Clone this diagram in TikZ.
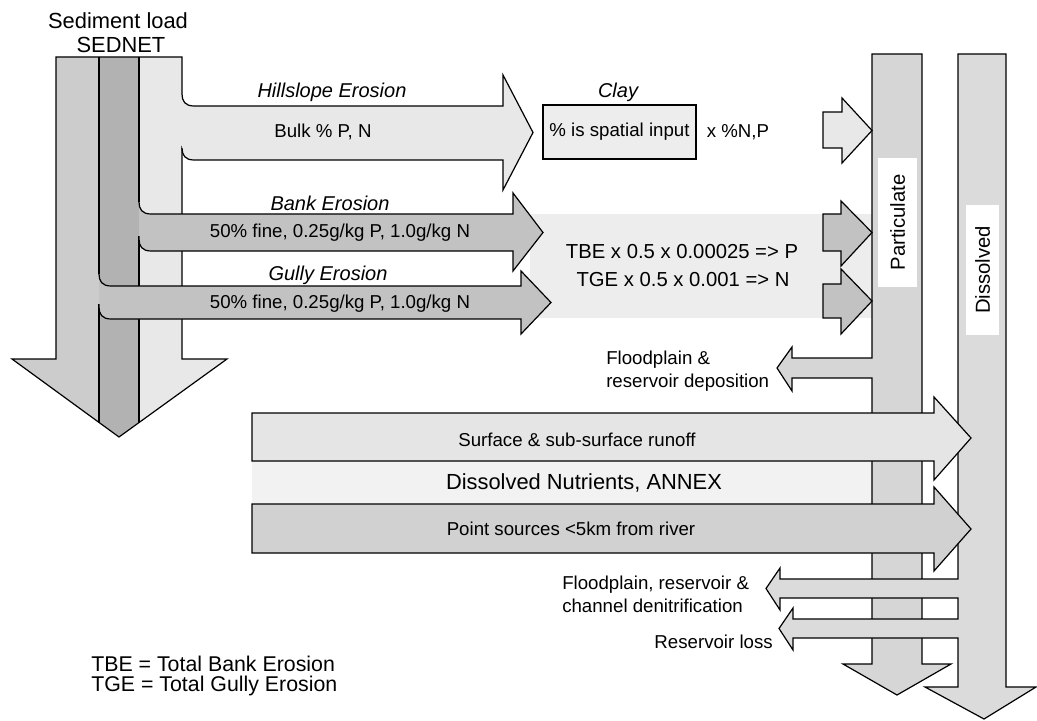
\documentclass[tikz,border=0pt]{standalone}
\usepackage{fontspec}
\setmainfont{Liberation Sans}
\definecolor{cA}{gray}{0.80}
\definecolor{cB}{gray}{0.70}
\definecolor{cC}{gray}{0.91}
\definecolor{cD}{gray}{0.76}
\definecolor{cP}{gray}{0.84}
\definecolor{cQ}{gray}{0.86}
\definecolor{cS}{gray}{0.90}
\definecolor{cT}{gray}{0.82}
\definecolor{cN}{gray}{0.95}
\definecolor{cM}{gray}{0.93}
\definecolor{cK}{gray}{0.93}
\tikzset{
  outl/.style={draw=black, line width=0.9pt, line join=miter},
  lbl/.style={inner sep=0pt, font=\fontsize{14}{17.25}\selectfont},
  lmid/.style={inner sep=0pt, font=\fontsize{15.2}{18}\selectfont},
  lbig/.style={inner sep=0pt, font=\fontsize{16.4}{18}\selectfont},
  lleg/.style={inner sep=0pt, font=\fontsize{16}{18}\selectfont},
  lital/.style={inner sep=0pt, font=\fontsize{15}{18}\selectfont\itshape},
}
\begin{document}
\begin{tikzpicture}[x=0.75pt,y=-0.75pt]
\useasboundingbox (0,0) rectangle (1037,720);

% ---------- background bands ----------
\fill[cN] (252,461) rectangle (872,504);
\fill[cM] (530,214) rectangle (872,318);

% ---------- big left arrow (SEDNET) ----------
\begin{scope}
\clip (56,57) -- (182,57) -- (182,359) -- (227,359) -- (119,437) -- (12,359) -- (56,359) -- cycle;
\fill[cA] (0,50) rectangle (99,450);
\fill[cB] (99,50) rectangle (139,450);
\fill[cC] (139,50) rectangle (240,450);
\end{scope}
\draw[outl] (182,94) -- (182,57) -- (56,57) -- (56,359) -- (12,359) -- (119,437) -- (227,359) -- (182,359) -- (182,146);
\draw[outl] (99,57) -- (99,274);
\draw[outl] (99,304) -- (99,422);
\draw[outl] (139,57) -- (139,202);
\draw[outl] (139,236) -- (139,422.6);

% Hillslope branch
\fill[cC] (182,94) .. controls (182,101) and (185,106) .. (194,106) -- (503,106) -- (503,75) -- (533,132.5) -- (503,190) -- (503,160) -- (194,160) .. controls (185,160) and (182,155) .. (182,148) -- cycle;
\draw[outl] (182,94) .. controls (182,101) and (185,106) .. (194,106) -- (503,106) -- (503,75) -- (533,132.5) -- (503,190) -- (503,160) -- (194,160) .. controls (185,160) and (182,155) .. (182,148);

% Bank branch
\fill[cD] (139,202) .. controls (139,209) and (142,214) .. (151,214) -- (513,214) -- (513,193) -- (543,232.5) -- (513,271) -- (513,251) -- (151,251) .. controls (142,251) and (139,246) .. (139,239) -- cycle;
\draw[outl] (139,202) .. controls (139,209) and (142,214) .. (151,214) -- (513,214) -- (513,193) -- (543,232.5) -- (513,271) -- (513,251) -- (151,251) .. controls (142,251) and (139,246) .. (139,239) -- (139,236);

% Gully branch
\fill[cD] (99,274) .. controls (99,281) and (102,286) .. (111,286) -- (521,286) -- (521,271) -- (551,302.5) -- (521,334) -- (521,319) -- (111,319) .. controls (102,319) and (99,314) .. (99,307) -- cycle;
\draw[outl] (99,274) .. controls (99,281) and (102,286) .. (111,286) -- (521,286) -- (521,271) -- (551,302.5) -- (521,334) -- (521,319) -- (111,319) .. controls (102,319) and (99,314) .. (99,307) -- (99,304);

% ---------- Particulate column ----------
\filldraw[outl, fill=cP] (872,54) -- (922,54) -- (922,664) -- (951,664) -- (897,695) -- (843,664) -- (872,664) -- (872,378) -- (792,378) -- (792,391) -- (777,368) -- (792,347) -- (792,358) -- (872,358) -- cycle;

% ---------- Dissolved column ----------
\filldraw[outl, fill=cQ] (958,54) -- (1006,54) -- (1006,687) -- (1036,687) -- (984,719) -- (925,687) -- (958,687) -- (958,638) -- (793,638) -- (793,650) -- (779,628.5) -- (793,608) -- (793,619) -- (958,619) -- (958,598) -- (780,598) -- (780,610) -- (766,588.5) -- (780,568) -- (780,579) -- (958,579) -- cycle;

% ---------- small arrows into Particulate ----------
\filldraw[outl, fill=cC] (823,112) -- (842,112) -- (842,98) -- (872,130.5) -- (842,163) -- (842,148) -- (823,148) -- cycle;
\filldraw[outl, fill=cD] (823,214) -- (841,214) -- (841,201) -- (872,232.5) -- (841,266) -- (841,251) -- (823,251) -- cycle;
\filldraw[outl, fill=cD] (823,284) -- (841,284) -- (841,269) -- (872,301) -- (841,334) -- (841,318) -- (823,318) -- cycle;

% ---------- horizontal arrows ----------
\filldraw[outl, fill=cS] (252,413) -- (934,413) -- (934,397) -- (971,438) -- (934,480) -- (934,461) -- (252,461) -- cycle;
\filldraw[outl, fill=cT] (252,504) -- (934,504) -- (934,487) -- (971,529) -- (934,571) -- (934,553) -- (252,553) -- cycle;

% ---------- Clay box ----------
\node[outl, fill=cK, lbl, minimum width=114.75pt, minimum height=40.5pt] (claybox) at (619.5,132) {\% is spatial input};

% ---------- labels ----------
\node[lbig] (sed1) at (118,21) {Sediment load};
\node[lbig] (sed2) at (121,45) {SEDNET};
\node[lital] (hill) at (332,92) {Hillslope Erosion};
\node[lbl] (bulk) at (323,132) {Bulk \% P, N};
\node[lital] (bank) at (330,203) {Bank Erosion};
\node[lbl] (bankt) at (340,233) {50\% fine, 0.25g/kg P, 1.0g/kg N};
\node[lital] (gully) at (328,275) {Gully Erosion};
\node[lbl] (gullyt) at (340,304) {50\% fine, 0.25g/kg P, 1.0g/kg N};
\node[lital] (clay) at (618,92) {Clay};
\node[lbl] (xnp) at (738,132) {x \%N,P};
\node[lmid] (tbe) at (682,252) {TBE x 0.5 x 0.00025 => P};
\node[lmid] (tge) at (683,280) {TGE x 0.5 x 0.001 => N};
\node[lbl, align=left, anchor=west] (fpd) at (606,371) {Floodplain \&\\reservoir deposition};
\node[lbl] (surf) at (577,440) {Surface \& sub-surface runoff};
\node[lbig] (dn) at (584,483) {Dissolved Nutrients, ANNEX};
\node[lbl] (pts) at (571,529) {Point sources <5km from river};
\node[lbl, align=left, anchor=west] (den) at (562,594) {Floodplain, reservoir \&\\channel denitrification};
\node[lbl, anchor=east] (rl) at (773,642) {Reservoir loss};
\node[lleg, anchor=base west] (leg1) at (91,671) {TBE = Total Bank Erosion};
\node[lleg, anchor=base west] (leg2) at (91,691) {TGE = Total Gully Erosion};

\node[lmid, fill=white, rotate=90, minimum width=97pt, minimum height=29pt] (part) at (897.5,222.5) {Particulate};
\node[lmid, fill=white, rotate=90, minimum width=97.5pt, minimum height=25pt] (diss) at (982.5,270) {Dissolved};
\end{tikzpicture}
\end{document}
